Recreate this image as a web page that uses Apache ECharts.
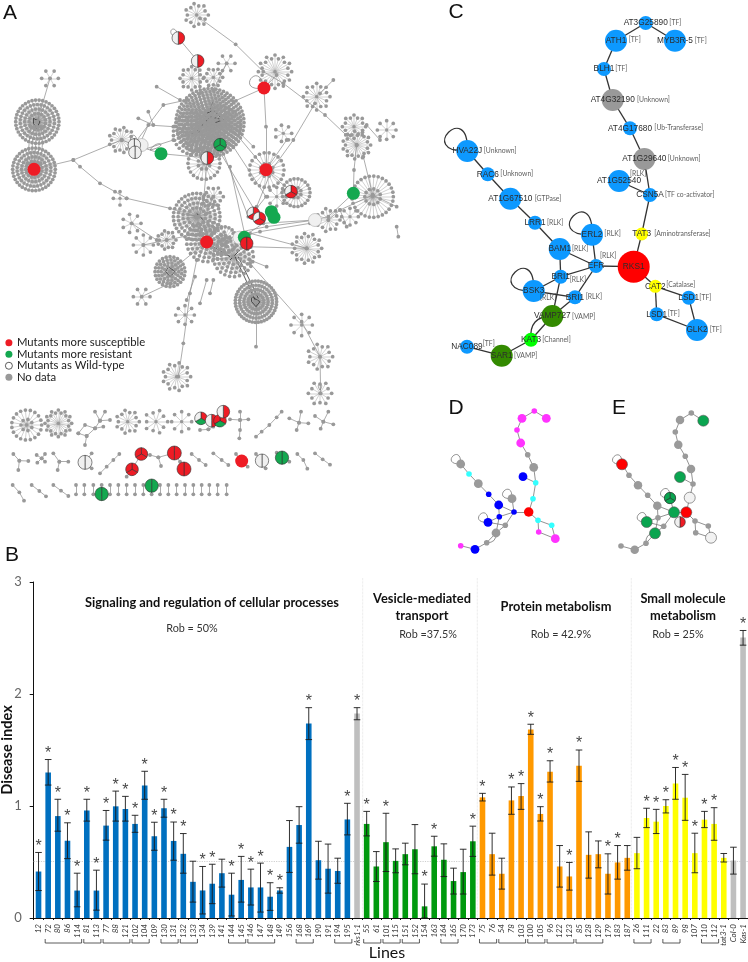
<!DOCTYPE html>
<html><head><meta charset="utf-8">
<style>html,body{margin:0;padding:0;background:#fff}#c{width:748px;height:962px}</style>
<script src="https://cdn.jsdelivr.net/npm/echarts@6/dist/echarts.min.js"></script></head>
<body><div id="c"></div>
<script>
// ---------- Panel B data ----------
const lines = ['12','72','80','86','114','81','113','77','88','121','102','104','109','130','131','132','133','134','139','141','144','145','146','147','148','149','156','168','169','190','191','194','195','rks1-1','55','61','101','115','151','152','154','163','164','165','170','173','75','76','54','78','103','100','105','96','122','123','85','128','129','179','183','187','26','111','22','83','89','98','107','110','112','tat3-1','Col-0','Kas-1'];
const diseaseIndex = [.415,1.30,.91,.69,.245,.96,.245,.825,.997,.973,.84,1.184,.73,.98,.688,.573,.323,.246,.306,.40,.208,.34,.273,.273,.19,.246,.635,.83,1.736,.516,.44,.42,.88,1.825,.84,.46,.677,.51,.57,.614,.104,.64,.52,.33,.41,.685,1.077,.57,.395,1.05,1.089,1.683,.929,1.306,.46,.371,1.359,.564,.57,.395,.496,.537,.579,.893,.86,1.0,1.20,1.074,.579,.878,.84,.537,.513,2.504];
const errorHigh = [.585,1.415,1.06,.85,.40,1.06,.427,.96,1.133,1.086,.917,1.31,.855,1.06,.857,.754,.507,.46,.48,.525,.40,.55,.436,.49,.315,.27,.87,.994,1.878,.685,.66,.534,1.024,1.878,.952,.593,.935,.617,.668,.834,.303,.73,.662,.445,.614,.82,1.113,.757,.534,1.17,1.20,1.73,.994,1.404,.647,.496,1.50,.769,.688,.573,.647,.647,.72,.98,.97,1.056,1.344,1.282,.757,.952,.985,.576,.632,2.567];
const errorLow = [.245,1.187,.775,.53,.10,.865,.07,.695,.865,.865,.765,1.06,.605,.90,.516,.40,.142,.036,.128,.276,.018,.142,.116,.053,.068,.222,.407,.668,1.593,.347,.222,.31,.742,1.77,.733,.326,.415,.404,.475,.395,0,.552,.37,.214,.214,.55,1.045,.383,.258,.926,.97,1.64,.866,1.214,.276,.249,1.22,.356,.448,.214,.347,.427,.44,.807,.754,.938,1.06,.872,.404,.807,.694,.5,.392,2.436];
const significantLines = ['12','72','80','86','114','81','113','77','88','121','102','104','109','130','131','132','134','139','144','145','146','147','148','149','169','195','rks1-1','55','101','154','163','173','75','78','103','100','105','96','123','85','179','183','111','22','83','89','98','107','110','112','Kas-1'];
const bracketGroups = [['72','114'],['81','113'],['77','121'],['102','104'],['130','131'],['132','133'],['144','145'],['146','148'],['168','169'],['194','195'],['55','61'],['101','115'],['151','152'],['164','165'],['75','76'],['54','103'],['100','105'],['96','123'],['85','129'],['26','111'],['83','89'],['110','112']];
const groupSizes = [33,1,12,16,10,2];
const groupColors = ['#0070c0','#bfbfbf','#009a0e','#ff9900','#ffff00','#bfbfbf'];
const wildTypeLevel = 0.51;
const separatorXs = [362.7,477.3,631.3];
const yTicks = [0,1,2,3];

// ---------- Panel C / D / E data (same 29-node subnetwork) ----------
const geneNames = ['AT3G25890','ATH1','MYB3R-5','BLH1','AT4G32190','AT4G17680','AT1G29640','CSN5A','AT1G52540','TAT3','RKS1','EFR','ERL2','BAM1','LRR1','AT1G67510','RAC6','HVA22J','BRI1','BSK3','BRI1','VAMP727','KAT3','SAR1','NAC089','CAT2','LSD1','LSD1','GLK2'];
const geneTags = ['[TF]','[TF]','[TF]','[TF]','[Unknown]','[Ub-Transferase]','[Unknown]','[TF co-activator]','[RLK]','[Aminotransferase]','','[RLK]','[RLK]','[RLK]','[RLK]','[GTPase]','[Unknown]','[Unknown]','[RLK]','[RLK]','[RLK]','[VAMP]','[Channel]','[VAMP]','[TF]','[Catalase]','[TF]','[TF]','[TF]'];
const geneClass = ['b','b','b','b','g','b','g','b','b','y','r','b','b','b','b','b','b','b','b','b','b','d','l','d','b','y','b','b','b'];
const cXY = [[645.7,23],[616,40.7],[675,40.7],[604,69],[612.7,100],[630,128.3],[644.3,159],[650,195],[619,181],[641.7,234],[633.7,266.7],[596,266],[592,234.7],[559.7,249],[535,222.7],[510.3,198.7],[487.7,174.3],[467.3,151],[560.7,276.7],[533.7,291],[575,297.3],[552.3,316],[531,339.7],[501.7,355.7],[467,346.7],[655.3,286.3],[688.7,297.7],[656.7,314.3],[697,330]];
const cSizes = [14,22,22,14,22,14,22,14,22,13,32,14,22,22,14,22,14,22,14,22,14,22,14,22,14,13,14,14,22];
const cTagXY = [[669.3,23.3],[628.7,40],[694.7,40.7],[615.3,69.3],[637,100.3],[654.3,128.3],[667.7,159.3],[665,195.3],[630,174.3],[654.3,234.3],[0,0],[600,256],[604.3,234.3],[572,249.3],[547,223],[534.7,199.3],[500.3,174.3],[483.7,151.3],[569.7,280.3],[540,297.7],[585.7,296.7],[572,316.7],[542.3,339.7],[514,355.7],[482.7,344.3],[666.3,285.3],[699.3,297.7],[667.7,314.3],[709.7,330.3]];
const subEdges = [[0,1],[0,2],[1,3],[3,4],[4,5],[5,6],[6,7],[7,8],[7,9],[9,10],[10,11],[10,25],[11,12],[11,13],[13,14],[14,15],[15,16],[16,17],[13,18],[11,18],[18,19],[19,20],[11,20],[18,21],[20,21],[21,22],[22,23],[23,24],[25,26],[25,27],[26,28],[27,28]];
const subLoopNodes = [17,12,19];
const dXY = [[534.3,411],[522,418.3],[546.3,418.3],[517,430],[520.7,443],[527.7,454.7],[533.7,467.3],[535.7,482.7],[523,476.7],[533,498.7],[528.7,512],[514,512],[512,498.7],[498.7,505],[488.7,494.3],[478.3,483.7],[469,474],[460.7,464],[499.3,516.7],[488,522.3],[505.3,525.3],[496,533],[486.7,542.7],[475,549.3],[460.7,545.7],[538,520.3],[551.7,525.3],[538.7,532],[555.3,538.7]];
const dColors = ['m','m','m','m','m','g','g','c','u','c','r','u','g','u','u','g','c','g','u','u','g','g','g','u','m','c','c','m','m'];
const eXY = [[691.3,413],[680,420],[703.3,420.7],[675.3,432],[678.3,444.7],[685.3,456.3],[691,469],[693,484],[680,477],[689.7,497.7],[686.3,512.3],[674,512.3],[670,498],[657.3,505.7],[647.7,495.3],[638,485.3],[629,475.3],[622,464.3],[658,517.7],[646.7,522],[663.7,526.3],[655,533.3],[646,543.3],[634.7,549.7],[621,546],[695,521],[708.3,526],[695.7,532.7],[711,537.7]];
const eColors = ['g','g','n','g','g','g','g','g','n','w','r','n','n','g','g','g','g','r','g','n','g','n','g','g','g','g','g','g','w'];

// ---------- Panel A data (network read at 3x picture units) ----------
const lowerRowShift = 990;
const aStars = [[112,365,105,65],[102,508,105,64],[630,368,300,102],[585,400,80,65],[660,380,80,60],[590,650,100,70],[620,725,70,60],[700,770,70,60],[670,720,30,40],[510,815,65,45],[768,905,120,62],[575,235,16,35],[640,232,12,28],[590,45,14,35],[825,215,24,50],[950,290,16,40],[1062,380,16,35],[1070,435,22,42],[1118,590,40,62],[1160,390,8,28],[365,420,18,38],[612,490,30,48],[800,510,30,52],[888,578,30,42],[920,745,22,45],[530,1130,18,42],[960,1070,14,38],[905,975,8,32],[150,235,6,25],[395,670,7,28],[430,735,8,30],[500,720,14,28],[425,890,6,25],[555,945,8,28],[640,590,12,30],[360,595,4,20],[680,190,6,25],[985,660,14,35],[1050,650,8,25],[830,590,8,28],[850,400,7,25],[960,1180,12,35]];
const aLowerStars = [[80,285,26,45],[175,280,24,40],[383,275,14,35],[468,275,10,35],[545,275,8,30]];
const aBranches = [
 [[600,55],[707,133],[790,215],[850,250],[975,345],[1070,435]],
 [[150,235],[112,365]],
 [[92,380],[82,490]],[[102,380],[92,490]],[[112,380],[102,490]],[[122,380],[112,490]],[[132,380],[122,490]],
 [[102,508],[220,480],[365,420]],
 [[220,480],[240,500],[300,550],[345,575],[380,595],[510,625],[590,650]],
 [[365,420],[405,435],[483,461],[622,474]],
 [[400,435],[490,315],[560,300],[630,360]],[[420,430],[445,375],[520,380]],[[405,457],[520,420]],
 [[415,355],[460,375],[445,335]],
 [[792,264],[700,305]],[[792,264],[798,380],[798,509]],[[792,264],[830,225]],
 [[690,380],[798,509],[873,575]],[[650,440],[770,640]],[[622,474],[610,610],[597,650]],[[690,500],[740,730]],[[660,434],[745,650]],
 [[945,310],[880,420],[815,510],[770,620]],
 [[760,440],[720,400]],[[860,420],[798,509]],[[700,440],[798,590],[750,650]],
 [[1070,435],[1062,510],[1060,580]],[[1090,470],[1118,585]],
 [[1060,580],[985,650],[945,660],[790,670],[730,710]],[[1118,585],[1020,630],[985,660]],
 [[945,660],[800,680],[700,700]],[[930,670],[780,695],[690,715]],
 [[750,790],[905,965],[960,1070],[962,1180]],
 [[590,780],[570,880],[550,1030],[535,1130]],
 [[768,905],[768,1040]],[[620,840],[600,910]],[[585,830],[560,900]],[[640,840],[630,880]],
 [[425,890],[510,850]],[[620,725],[510,815]],
 [[600,700],[500,720],[430,735]],[[395,670],[470,720]],
 [[640,590],[620,640]],[[680,190],[640,270]],[[593,183],[600,280]],[[535,114],[593,183]],
 [[750,700],[920,745]],[[740,740],[920,745]],[[800,800],[750,780]],
 [[1118,585],[1190,620]],[[1190,680],[1195,710]],[[1140,420],[1100,375]],
 [[1020,630],[1040,680]],[[1000,240],[960,280]],[[470,260],[540,300]]
];
const aDarkEdges = [
 [[620,340],[640,330],[670,360],[630,350],[585,400]],[[640,370],[680,355]],[[640,300],[630,330]],[[575,400],[600,395]],
 [[100,355],[120,365],[110,385],[100,370],[100,355]],[[505,800],[525,815],[510,830],[497,815],[505,800]],
 [[755,890],[780,905],[768,920],[755,905],[755,890]],[[705,770],[768,905]],[[715,770],[775,895]],
 [[590,640],[615,665]],[[640,740],[690,770]],[[690,780],[720,750]]
];
const aLowerChains = [
 [[255,345],[260,318],[285,295],[300,272],[285,245]],[[300,272],[315,245]],[[300,272],[330,270]],[[285,295],[310,290]],[[235,310],[260,318]],[[235,310],[255,285],[285,295]],
 [[720,245],[720,270],[720,300],[718,325]],[[690,268],[720,270],[745,268]],
 [[768,320],[785,305],[808,285],[830,262],[845,245]],
 [[903,245],[897,278],[890,300]],[[868,265],[897,278],[925,280]],
 [[985,245],[970,275],[962,296]],[[945,258],[970,275],[1000,283]],
 [[40,372],[58,392],[85,393]],[[58,392],[55,420]],
 [[110,375],[125,385],[135,372]],[[112,398],[125,385],[135,395]],
 [[160,370],[178,395],[205,395]],[[178,395],[173,420]],
 [[275,370],[255,397],[275,415]],
 [[300,430],[320,410],[340,390],[358,372]],
 [[380,440],[396,418],[424,372],[450,375],[475,382],[523,369],[540,395],[552,417]],[[475,382],[483,408]],
 [[575,372],[597,390],[617,405]],[[640,370],[665,390],[685,405]],
 [[708,372],[725,393],[743,410]],[[768,372],[786,392],[797,415]],[[830,368],[846,383],[868,395]],
 [[892,372],[910,390],[922,416]],[[945,370],[968,388],[990,404]],
 [[38,465],[58,487],[72,512]],[[95,465],[118,483],[138,499]],[[160,465],[183,482],[205,498]],
 [[228,465],[228,493]],[[253,465],[253,493]],[[280,465],[280,493]],[[305,465],[305,493]],[[330,465],[330,493]],[[355,465],[355,493]],[[380,465],[380,493]],[[405,465],[405,493]],[[430,465],[430,493]],[[455,465],[455,493]],[[480,465],[480,493]],[[505,465],[505,493]],[[530,465],[530,493]],[[555,465],[555,493]],[[580,465],[580,493]],[[605,465],[605,493]],[[628,465],[628,493]],[[653,465],[653,493]],[[680,465],[680,493]],
 [[600,300],[625,298]],[[640,290],[625,298]]
];
const susceptibleNodes = [[792,264],[102,508],[798,509],[620,726],[725,1383]];
const resistantNodes = [[483,461],[1060,580],[814,635],[822,652],[733,712]];
const wildTypeNodes = [[945,660],[425,435],[718,713]];
const R='#ee1c25', G='#14a850', W='#f0f0f0';
const mixedNodes = [
 [403,435,38,[W,W]],[405,457,38,[W,W]],
 [535,114,38,[R,W]],[593,183,38,[R,W]],[622,474,38,[R,W]],[660,434,38,[G,G,G]],[873,575,38,[R,R,W]],
 [760,640,38,[R,R,W]],[778,655,38,[R,R,W]],[740,730,38,[R,R]],
 [603,1255,38,[R,G,W]],[635,1262,38,[R,W]],[660,1262,38,[R,G,R]],[670,1235,38,[R,W]],
 [424,1362,38,[R,R,R]],[396,1408,38,[R,R,R]],[523,1359,42,[R,R]],[552,1407,42,[R,R]],
 [786,1382,40,[W,W]],[255,1387,42,[W,W]],[846,1373,40,[G,G]],[455,1457,40,[G,G]],[305,1482,40,[G,G]],
 [2010,1494,34,['#0aa550','#0aa550','#0aa550']],[2040,1566,32,[R,W]]
];
const aLoops = [[792,264,-30,5,-5,-30],[535,114,-16,-4,-2,-18],[450,450,8,-12,20,-4],[403,435,-12,-12,8,-14],[960,1170,-6,-8,6,-8]];

// ---------- builders ----------
function ringLeaves(s){
  const [x,y,n,r]=s; const rings=n>200?8:n>60?4:n>24?2:1; const out=[];
  let radii=[],tot=0; for(let k=0;k<rings;k++){const q=rings==1?r:r*(1-(k*0.62/(rings-1)));radii.push(q);tot+=q;}
  let left=n;
  radii.forEach((q,k)=>{const c=k==rings-1?left:Math.round(n*q/tot);left-=c;
    for(let i=0;i<c;i++){const a=2*Math.PI*(i+0.5*k)/c,q2=(rings==1&&n>=10&&i%2)?q*.8:q;out.push([x+q2*Math.cos(a),y+q2*Math.sin(a)]);}});
  return out;
}
const nData=[],nLinks=[];
const lowerStars=aLowerStars.map(s=>[s[0],s[1]+lowerRowShift,s[2],s[3]]);
aStars.concat(lowerStars).forEach(s=>{
  const h=nData.length; nData.push({value:[s[0],s[1]],symbolSize:3.4});
  ringLeaves(s).forEach(p=>{nLinks.push({source:h,target:nData.length,lineStyle:{width:.45,color:'#999'}});nData.push({value:p,symbolSize:3.7});});
});
function addPoly(pts,style,dots){
  let prev=-1;
  pts.forEach(p=>{const i=nData.length;nData.push({value:p,symbolSize:dots?3.8:0});
    if(prev>=0)nLinks.push({source:prev,target:i,lineStyle:style});prev=i;});
}
const thin={width:.7,color:'#8a8a8a'};
aBranches.forEach(b=>addPoly(b,thin,true));
aLowerChains.forEach(b=>addPoly(b.map(p=>[p[0],p[1]+lowerRowShift]),thin,true));
aDarkEdges.forEach(b=>addPoly(b,{width:.8,color:'#333'},false));

const cColor={b:'#0d99ff',g:'#999999',y:'#ffff00',r:'#ff0000',d:'#338a00',l:'#00ff00'};
const dColor={m:'#ff33ff',g:'#9a9a9a',c:'#33ffff',u:'#0000ff',r:'#ff0000'};
const eColor={g:'#9a9a9a',n:'#0aa550',r:'#ff0000',w:'#f2f2f2'};
const bigNodes=i=>cSizes[i]>=22||i==10;
function pxEdges(w,c,flip){return subEdges.map(e=>({source:e[0],target:e[1],lineStyle:{width:w,color:c}}))
  .concat([{source:flip?21:22,target:flip?22:21,lineStyle:{width:w,color:c,curveness:.55}}]);}
function subLoopData(xy,scale){return subLoopNodes.map(n=>[xy[n][0],xy[n][1],-52*scale,2*scale,2*scale,-52*scale]);}

function loopItem(color,width){return function(p,api){
  const c=api.coord([api.value(0),api.value(1)]);
  return {type:'bezierCurve',shape:{x1:c[0],y1:c[1],x2:c[0],y2:c[1],cpx1:c[0]+api.value(2),cpy1:c[1]+api.value(3),cpx2:c[0]+api.value(4),cpy2:c[1]+api.value(5)},
    style:{fill:'none',stroke:color,lineWidth:width}};};}

const sigSet=new Set(significantLines);
const barColors=[];groupSizes.forEach((n,g)=>{for(let i=0;i<n;i++)barColors.push(groupColors[g]);});

const labelText=(t,x,y,font,color,align)=>({type:'text',x,y,silent:true,z:20,style:{text:t,font,fill:color||'#111',textAlign:align||'center',textVerticalAlign:'middle'}});
const headF='bold 12.8px Lato', robF='10.8px Lato';
const letterF='21px "Liberation Sans"';

const axisHide={show:false};
const option={
 animation:false,backgroundColor:'#fff',
 grid:[{left:0,top:0,width:748,height:962,outerBoundsMode:'none'},{left:33.7,top:582,width:714.2,height:336,outerBoundsMode:'none'}],
 xAxis:[
  {type:'value',gridIndex:0,min:0,max:748,...axisHide},
  {type:'category',gridIndex:1,data:lines,boundaryGap:true,axisLine:{lineStyle:{color:'#111',width:1}},axisTick:{show:true,length:2,lineStyle:{color:'#111'}},
   axisLabel:{interval:0,rotate:90,fontFamily:'Lato',fontStyle:'italic',fontSize:8,color:'#333',margin:6}},
  {type:'value',gridIndex:0,min:0,max:2244,...axisHide}],
 yAxis:[
  {type:'value',gridIndex:0,min:0,max:962,inverse:true,...axisHide},
  {type:'value',gridIndex:1,min:0,max:3,interval:1,name:'Disease index',nameLocation:'middle',nameGap:19,nameMoveOverlap:false,nameTextStyle:{fontFamily:'Lato',fontWeight:'bold',fontSize:14.6,color:'#111'},
   axisLine:{show:true,lineStyle:{color:'#111',width:1}},axisTick:{show:true,length:4,lineStyle:{color:'#111'}},splitLine:{show:false},
   axisLabel:{fontFamily:'Lato',fontSize:13,color:'#666',margin:12,formatter:v=>yTicks.includes(v)?String(v):''}},
  {type:'value',gridIndex:0,min:0,max:2886,inverse:true,...axisHide}],
 legend:{orient:'vertical',left:5,top:337,itemWidth:8,itemHeight:7,itemGap:0,selectedMode:false,padding:0,
  textStyle:{fontFamily:'Lato',fontSize:11.3,color:'#222',lineHeight:11.5,padding:[0,0,0,-1]},
  data:[{name:'Mutants more susceptible',icon:'circle',itemStyle:{color:'#ee1c25',borderWidth:0}},
        {name:'Mutants more resistant',icon:'circle',itemStyle:{color:'#14a850',borderWidth:0}},
        {name:'Mutants as Wild-type',icon:'circle',itemStyle:{color:'#fff',borderColor:'#333',borderWidth:.8}},
        {name:'No data',icon:'circle',itemStyle:{color:'#999',borderWidth:0}}]},
 graphic:[
  labelText('A',10,13,letterF),labelText('B',12,555,letterF),labelText('C',456,12,letterF),labelText('D',456,408,letterF),labelText('E',619,408,letterF),
  labelText('Signaling and regulation of cellular processes',212,603,headF),
  labelText('Rob = 50%',192,629,robF,'#333'),
  labelText('Vesicle-mediated',422,599,headF),labelText('transport',422,615.5,headF),labelText('Rob =37.5%',428,635,robF,'#333'),
  labelText('Protein metabolism',556,607,headF),labelText('Rob = 42.9%',561,635,robF,'#333'),
  labelText('Small molecule',683,599,headF),labelText('metabolism',683,615.5,headF),labelText('Rob = 25%',678,635,robF,'#333'),
  labelText('Lines',387,953,'16px Lato','#111')
 ],
 series:[
  // Panel A
  {name:'No data',type:'graph',coordinateSystem:'cartesian2d',xAxisIndex:2,yAxisIndex:2,layout:'none',silent:true,z:2,
   symbol:'circle',symbolSize:3.6,itemStyle:{color:'#999'},data:nData,links:nLinks,lineStyle:{opacity:1,curveness:0}},
  {name:'Panel A loops',type:'custom',coordinateSystem:'cartesian2d',xAxisIndex:2,yAxisIndex:2,silent:true,z:2,clip:false,renderItem:loopItem('#777',.7),data:aLoops},
  {name:'Mutants as Wild-type',type:'scatter',xAxisIndex:2,yAxisIndex:2,symbolSize:13,z:3,silent:true,itemStyle:{color:'#f0f0f0',borderColor:'#aaa',borderWidth:.6,opacity:1},data:wildTypeNodes},
  {name:'Mutants more resistant',type:'scatter',xAxisIndex:2,yAxisIndex:2,symbolSize:13,z:3,silent:true,itemStyle:{color:'#14a850',opacity:1},data:resistantNodes},
  {name:'Mutants more susceptible',type:'scatter',xAxisIndex:2,yAxisIndex:2,symbolSize:13,z:4,silent:true,itemStyle:{color:'#ee1c25',opacity:1},data:susceptibleNodes},
  {name:'Split nodes',type:'custom',coordinateSystem:'cartesian2d',xAxisIndex:2,yAxisIndex:2,silent:true,z:5,
   data:mixedNodes.map(m=>m.slice(0,3)),
   renderItem(p,api){
    const c=api.coord([api.value(0),api.value(1)]),r=api.value(2)/6,cols=mixedNodes[p.dataIndex][3],k=cols.length;
    return {type:'group',children:cols.map((col,i)=>({type:'sector',
      shape:{cx:c[0],cy:c[1],r,r0:0,startAngle:-Math.PI/2+i*2*Math.PI/k,endAngle:-Math.PI/2+(i+1)*2*Math.PI/k,clockwise:true},
      style:{fill:col,stroke:'#333',lineWidth:.6}}))};
   }},
  // Panel C
  {name:'Panel C',type:'graph',coordinateSystem:'cartesian2d',xAxisIndex:0,yAxisIndex:0,layout:'none',silent:true,z:3,
   data:cXY.map((p,i)=>({value:p,name:geneNames[i]+'#'+i,symbolSize:cSizes[i],itemStyle:{color:cColor[geneClass[i]]},
     label:{show:true,position:'inside',formatter:geneNames[i],fontFamily:'Liberation Sans',fontSize:8.3,color:'#2d2d2d'}})),
   links:pxEdges(1.3,'#333',false),lineStyle:{opacity:1}},
  {name:'Panel C loops',type:'custom',coordinateSystem:'cartesian2d',xAxisIndex:0,yAxisIndex:0,silent:true,z:2,renderItem:loopItem('#333',1.3),data:subLoopData(cXY,1)},
  {name:'Panel C tags',type:'scatter',xAxisIndex:0,yAxisIndex:0,symbolSize:0,silent:true,z:6,
   data:cTagXY.map((p,i)=>({value:p,label:{show:!!geneTags[i],formatter:geneTags[i]}})),
   label:{position:'right',distance:0,fontFamily:'Lato',fontSize:6.8,color:'#333'}},
  // Panel D
  {name:'Panel D',type:'graph',coordinateSystem:'cartesian2d',xAxisIndex:0,yAxisIndex:0,layout:'none',silent:true,z:3,
   data:dXY.map((p,i)=>({value:p,symbolSize:i==10?9.5:(bigNodes(i)?8.8:5.6),itemStyle:{color:dColor[dColors[i]]}})),
   links:pxEdges(.8,'#777',true),lineStyle:{opacity:1}},
  {name:'Panel D loops',type:'custom',coordinateSystem:'cartesian2d',xAxisIndex:0,yAxisIndex:0,silent:true,z:2,renderItem:loopItem('#666',.7),data:subLoopData(dXY,.42)},
  // Panel E
  {name:'Panel E',type:'graph',coordinateSystem:'cartesian2d',xAxisIndex:0,yAxisIndex:0,layout:'none',silent:true,z:3,
   data:eXY.map((p,i)=>({value:p,symbolSize:bigNodes(i)||eColors[i]!='g'?(eColors[i]=='g'?8.5:11):5.6,
     itemStyle:{color:eColor[eColors[i]],borderColor:eColors[i]=='g'?'transparent':'#555',borderWidth:eColors[i]=='g'?0:.6}})),
   links:pxEdges(.8,'#777',false),lineStyle:{opacity:1}},
  {name:'Panel E loops',type:'custom',coordinateSystem:'cartesian2d',xAxisIndex:0,yAxisIndex:0,silent:true,z:2,renderItem:loopItem('#666',.7),data:subLoopData(eXY,.42)},
  // Separators of panel B
  ...separatorXs.map((x,i)=>({name:'sep'+i,type:'line',xAxisIndex:0,yAxisIndex:0,silent:true,z:1,symbol:'none',lineStyle:{color:'#d8d8d8',width:.7,type:'dotted'},data:[[x,578],[x,918]]})),
  // Panel B
  {name:'Disease index',type:'bar',xAxisIndex:1,yAxisIndex:1,barWidth:5.6,silent:true,z:3,
   data:diseaseIndex.map((v,i)=>({value:v,itemStyle:{color:barColors[i]}})),
   markLine:{silent:true,symbol:'none',label:{show:false},z:2,lineStyle:{color:'#cfcfcf',type:'dotted',width:1.2},data:[{yAxis:wildTypeLevel}]}},
  {name:'Error bars',type:'custom',coordinateSystem:'cartesian2d',xAxisIndex:1,yAxisIndex:1,silent:true,z:4,clip:false,
   data:lines.map((l,i)=>[i,errorLow[i],errorHigh[i]]),
   encode:{x:0,y:[1,2]},
   renderItem(p,api){
    const a=api.coord([api.value(0),api.value(1)]),b=api.coord([api.value(0),api.value(2)]),w=3.3;
    const st={stroke:'#1a1a1a',lineWidth:.9};
    const L=(x1,y1,x2,y2)=>({type:'line',shape:{x1,y1,x2,y2},style:st});
    return {type:'group',children:[L(a[0],a[1],b[0],b[1]),L(a[0]-w,a[1],a[0]+w,a[1]),L(b[0]-w,b[1],b[0]+w,b[1])]};
   }},
  {name:'Significance',type:'scatter',xAxisIndex:1,yAxisIndex:1,symbolSize:0,silent:true,z:5,
   data:lines.map((l,i)=>sigSet.has(l)?[i,errorHigh[i]]:null).filter(Boolean),
   label:{show:true,position:'top',distance:-2,formatter:'*',fontFamily:'Liberation Sans',fontSize:16,color:'#111'}},
  {name:'Brackets',type:'custom',coordinateSystem:'cartesian2d',xAxisIndex:1,yAxisIndex:1,silent:true,z:5,clip:false,
   data:bracketGroups.map(g=>[lines.indexOf(g[0]),lines.indexOf(g[1])]),
   renderItem(p,api){
    const x0=api.coord([api.value(0),0])[0]-3,x1=api.coord([api.value(1),0])[0]+4.5,y0=939,y1=943;
    return {type:'polyline',shape:{points:[[x0,y0],[x0,y1],[x1,y1],[x1,y0]]},style:{fill:'none',stroke:'#333',lineWidth:.8}};
   }}
 ]
};
const chart=echarts.init(document.getElementById('c'),null,{renderer:'canvas'});
chart.setOption(option);
</script></body></html>
